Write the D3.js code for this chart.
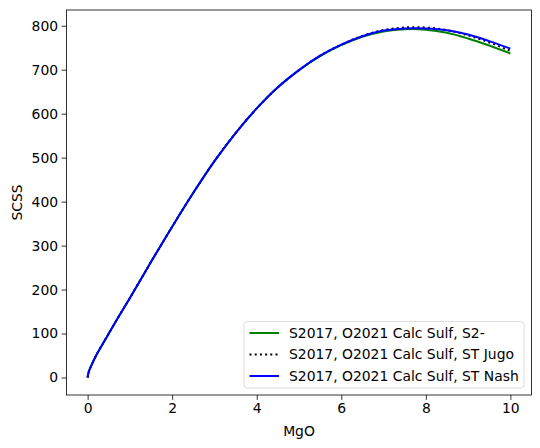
<!DOCTYPE html>
<html>
<head>
<meta charset="utf-8">
<script src="https://cdn.jsdelivr.net/npm/d3@7"></script>
<style>
  body { margin: 0; background: #fff; }
  text { font-family: "DejaVu Sans", sans-serif; }
</style>
</head>
<body>
<svg width="540" height="448"></svg>
<script>
// MgO (wt%) along the path
var mgo = [0, 0.02, 0.05, 0.1, 0.2, 0.3, 0.5, 0.75, 1, 1.5, 2, 2.5, 3, 3.5, 4, 4.5, 5, 5.5, 6, 6.5, 7, 7.5, 8, 8.5, 9, 9.5, 10];
// SCSS for each sulfide calc
var scssS2 = [0, 11, 19, 30, 50, 67, 100, 141, 181, 263, 343, 420, 492, 556, 612, 660, 699, 731, 756, 775, 787, 792, 791, 784, 771, 755, 737];
var scssJugo = [0, 11, 19, 30, 50, 67, 100, 141, 181, 263, 343, 420, 492, 556, 612, 660, 699, 732, 757, 777, 790, 796, 796, 790, 778, 762, 743];
var scssNash = [0, 11, 19, 30, 50, 67, 100, 141, 181, 263, 343, 420, 492, 556, 612, 660, 699, 732, 757, 776, 789, 794, 794, 790, 780, 765, 748];

var seriesNames = ["S2017, O2021 Calc Sulf, S2-", "S2017, O2021 Calc Sulf, ST Jugo", "S2017, O2021 Calc Sulf, ST Nash"];
var seriesVals = [scssS2, scssJugo, scssNash];
var seriesColors = ["green", "black", "blue"];
var seriesDash = [null, "2,3.2", null];

var xTicks = [0, 2, 4, 6, 8, 10];
var yTicks = [0, 100, 200, 300, 400, 500, 600, 700, 800];

var svg = d3.select("svg"),
    margin = {left: 66.5, top: 10, right: 8.5, bottom: 53},
    width = 540 - margin.left - margin.right,
    height = 448 - margin.top - margin.bottom;

var g = svg.append("g").attr("transform", "translate(" + margin.left + "," + margin.top + ")");

var allY = d3.merge(seriesVals);
var yMin = d3.min(allY), yMax = d3.max(allY), yPad = (yMax - yMin) * 0.05;
var x = d3.scaleLinear().domain([-0.5, 10.5]).range([0, width]);
var y = d3.scaleLinear().domain([yMin - yPad, yMax + yPad]).range([height, 0]);

var xAxis = g.append("g")
    .attr("transform", "translate(0," + height + ")")
    .call(d3.axisBottom(x).tickValues(xTicks).tickSize(4.9).tickPadding(3.5).tickFormat(d3.format("d")));
var yAxis = g.append("g")
    .call(d3.axisLeft(y).tickValues(yTicks).tickSize(4.9).tickPadding(3.5).tickFormat(d3.format("d")));
[xAxis, yAxis].forEach(function(a) {
    a.select(".domain").remove();
    a.selectAll("line").attr("stroke", "#000").attr("stroke-width", 0.8);
    a.selectAll("text").attr("font-size", "13.9px").attr("fill", "#000")
        .attr("font-family", "DejaVu Sans, sans-serif");
});

var line = d3.line()
    .x(function(d) { return x(d[0]); })
    .y(function(d) { return y(d[1]); })
    .curve(d3.curveCatmullRom.alpha(0.5));

seriesVals.forEach(function(vals, i) {
    g.append("path")
        .datum(mgo.map(function(m, j) { return [m, vals[j]]; }))
        .attr("fill", "none")
        .attr("stroke", seriesColors[i])
        .attr("stroke-width", 2)
        .attr("stroke-dasharray", seriesDash[i])
        .attr("d", line);
});

g.append("rect")
    .attr("width", width).attr("height", height)
    .attr("fill", "none").attr("stroke", "#000").attr("stroke-width", 0.8);

// axis labels
svg.append("text")
    .attr("x", margin.left + width / 2).attr("y", 436)
    .attr("text-anchor", "middle").attr("font-size", "13.9px")
    .text("MgO");
svg.append("text")
    .attr("transform", "translate(22," + (margin.top + height / 2) + ") rotate(-90)")
    .attr("text-anchor", "middle").attr("font-size", "13.9px")
    .text("SCSS");

// legend
var leg = svg.append("g").attr("transform", "translate(244,321.5)");
leg.append("rect")
    .attr("width", 280).attr("height", 66.5).attr("rx", 3)
    .attr("fill", "#fff").attr("fill-opacity", 0.8)
    .attr("stroke", "#d6d6d6").attr("stroke-width", 0.8);
seriesNames.forEach(function(name, i) {
    var yy = 11.5 + i * 21.5;
    leg.append("line")
        .attr("x1", 5.5).attr("x2", 35).attr("y1", yy).attr("y2", yy)
        .attr("stroke", seriesColors[i]).attr("stroke-width", 2)
        .attr("stroke-dasharray", seriesDash[i]);
    leg.append("text")
        .attr("x", 45).attr("y", yy).attr("dy", "0.35em")
        .attr("font-size", "13.9px")
        .text(name);
});
</script>
</body>
</html>
